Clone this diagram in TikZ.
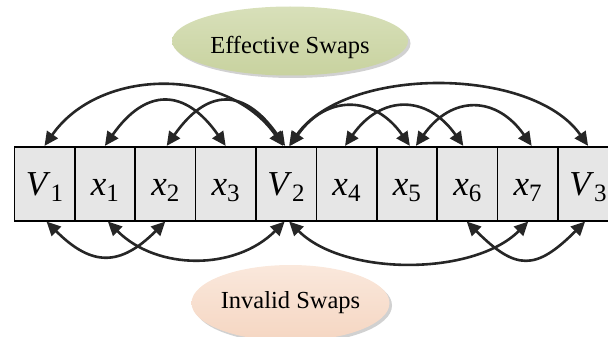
\documentclass[tikz,border=0pt]{standalone}
\usepackage{fontspec}
\setmainfont{Liberation Serif}
\usetikzlibrary{arrows.meta,shapes.geometric}

\definecolor{arcink}{HTML}{262626}
\definecolor{cellfill}{HTML}{E6E6E6}
\definecolor{effTop}{HTML}{D8E0BA}
\definecolor{effBot}{HTML}{C8D29F}
\definecolor{invTop}{HTML}{FAE8DC}
\definecolor{invBot}{HTML}{F5D6C2}

% italic symbol with an upright, lowered index
\newcommand{\cellsym}[2]{\textit{#1}\raisebox{-6pt}{\fontsize{25}{25}\selectfont #2}}

\tikzset{
  cellbox/.style={draw=black, line width=1.6pt, fill=cellfill,
    minimum width=60.4pt, minimum height=74pt, inner sep=0pt,
    font=\fontsize{35}{35}\selectfont, text height=23pt, text depth=0pt},
  swaparc/.style={draw=arcink, line width=2.6pt,
    {Triangle[length=14pt,width=13pt]}-{Triangle[length=14pt,width=13pt]}},
  bubble/.style={ellipse, inner sep=0pt, font=\fontsize{24.5}{29}\selectfont},
  bubbleshadow/.style={ellipse, fill=black!18, draw=none, inner sep=0pt}
}

\begin{document}
\begin{tikzpicture}[x=1pt, y=-1pt]
\useasboundingbox (0,0) rectangle (608,337);

% shadows behind the two labels
\node[bubbleshadow, minimum width=236pt, minimum height=69pt] at (292.5,43.5) {};
\node[bubbleshadow, minimum width=198pt, minimum height=76pt] at (293,305.5) {};

\node[bubble, top color=effTop, bottom color=effBot,
      minimum width=236pt, minimum height=69pt, text height=26pt, text depth=0pt]
      (eff) at (290,41) {Effective Swaps};
\node[bubble, top color=invTop, bottom color=invBot,
      minimum width=198pt, minimum height=76pt]
      (inv) at (290.5,303) {Invalid Swaps};

% the row of cells
\node[cellbox] (c0) at (44.5 ,183.7) {\cellsym{V}{1}};
\node[cellbox] (c1) at (104.9,183.7) {\cellsym{x}{1}};
\node[cellbox] (c2) at (165.3,183.7) {\cellsym{x}{2}};
\node[cellbox] (c3) at (225.7,183.7) {\cellsym{x}{3}};
\node[cellbox] (c4) at (286.1,183.7) {\cellsym{V}{2}};
\node[cellbox] (c5) at (346.5,183.7) {\cellsym{x}{4}};
\node[cellbox] (c6) at (406.9,183.7) {\cellsym{x}{5}};
\node[cellbox] (c7) at (467.3,183.7) {\cellsym{x}{6}};
\node[cellbox] (c8) at (527.7,183.7) {\cellsym{x}{7}};
\node[cellbox] (c9) at (588.1,183.7) {\cellsym{V}{3}};

% effective swaps (above the row)
\draw[swaparc] (c0.north) to[out=55,in=125,looseness=1.04] ([xshift=-3pt]c4.north);
\draw[swaparc] (c1.north) to[out=55,in=125,looseness=1.51] (c3.north);
\draw[swaparc] ([xshift=1.4pt]c2.north) to[out=55,in=125,looseness=1.54] ([xshift=-1pt]c4.north);
\draw[swaparc] ([xshift=3pt]c4.north) to[out=55,in=125,looseness=0.84] (c9.north);
\draw[swaparc] ([xshift=4pt]c4.north) to[out=55,in=125,looseness=1.34] ([xshift=3pt]c6.north);
\draw[swaparc] ([xshift=-1.5pt]c5.north) to[out=55,in=125,looseness=1.36] ([xshift=-4pt]c7.north);
\draw[swaparc] ([xshift=9pt]c6.north) to[out=55,in=125,looseness=1.37] ([xshift=4pt]c8.north);

% invalid swaps (below the row)
\draw[swaparc] ([xshift=2pt]c0.south) to[out=-45,in=-135,looseness=1.38] (c2.south);
\draw[swaparc] ([xshift=3pt]c1.south) to[out=-45,in=-135,looseness=1.01] ([xshift=-1.5pt]c4.south);
\draw[swaparc] ([xshift=3pt]c4.south) to[out=-45,in=-135,looseness=0.83] ([xshift=0.6pt]c8.south);
\draw[swaparc] ([xshift=-0.6pt]c7.south) to[out=-45,in=-135,looseness=1.51] ([xshift=-3pt]c9.south);
\end{tikzpicture}
\end{document}
